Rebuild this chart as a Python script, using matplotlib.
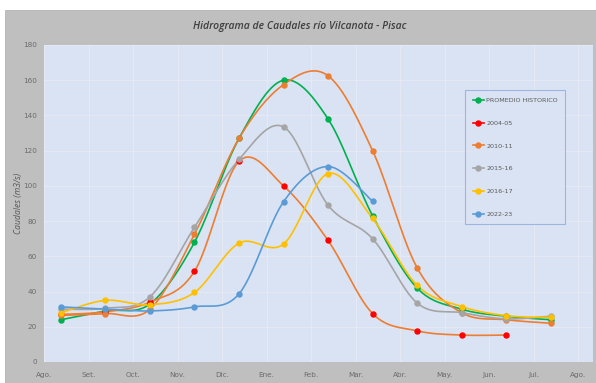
import numpy as np
import matplotlib
matplotlib.use("Agg")
import matplotlib.pyplot as plt
from matplotlib.patches import Rectangle
from matplotlib.lines import Line2D

# Month labels (hydrological year, August to August)
months = ["Ago.", "Set.", "Oct.", "Nov.", "Dic.", "Ene.", "Feb.", "Mar.",
          "Abr.", "May.", "Jun.", "Jul.", "Ago."]

# Monthly mean discharge (m3/s), Vilcanota river at Pisac
promedio = [24, 29, 33, 68, 127, 160, 138, 83, 42, 30, 26, 24]
y2004_05 = [27, 28.5, 34, 51.5, 114, 100, 69, 27.5, 17.7, 15.3, 15.3]
y2010_11 = [26.5, 27.5, 30, 72.5, 127, 157.5, 162.5, 120, 53.5, 28, 24, 22]
y2015_16 = [30, 30.5, 37, 76.5, 115, 133.5, 89, 70, 33.5, 28, 24.5, 26]
y2016_17 = [28, 35, 32.5, 39.5, 67.5, 67, 107, 81.5, 43.5, 31.5, 26.3, 25.3]
y2022_23 = [31.3, 30, 29, 31.3, 38.7, 91, 111, 91.3]

series = [
    ("PROMEDIO HISTORICO", promedio, "#00b050", "#00b050"),
    ("2004-05", y2004_05, "#ed7d31", "#ff0000"),
    ("2010-11", y2010_11, "#ed7d31", "#ed7d31"),
    ("2015-16", y2015_16, "#a5a5a5", "#a5a5a5"),
    ("2016-17", y2016_17, "#ffc000", "#ffc000"),
    ("2022-23", y2022_23, "#5b9bd5", "#5b9bd5"),
]

POINT_OFFSET = 0.38  # mid-month position of each monthly value


def smooth(x, y, n=30):
    """Cardinal (Catmull-Rom style) Bezier smoothing like spreadsheet charts."""
    x = np.asarray(x, float)
    y = np.asarray(y, float)
    pts = np.column_stack([x, y])
    m = len(pts)
    out = [pts[0]]
    t = np.linspace(0, 1, n)[1:, None]
    for i in range(m - 1):
        p0 = pts[i - 1] if i > 0 else pts[i]
        p1 = pts[i]
        p2 = pts[i + 1]
        p3 = pts[i + 2] if i + 2 < m else pts[i + 1]
        c1 = p1 + (p2 - p0) / 6.0
        c2 = p2 - (p3 - p1) / 6.0
        seg = ((1 - t) ** 3) * p1 + 3 * ((1 - t) ** 2) * t * c1 + \
            3 * (1 - t) * t ** 2 * c2 + t ** 3 * p2
        out.extend(seg)
    out = np.array(out)
    return out[:, 0], out[:, 1]


W, H = 596, 383
fig = plt.figure(figsize=(W / 100, H / 100), dpi=100, facecolor="white")
fig.patches.append(Rectangle((5 / W, 0), 1 - 5 / W, 1 - 10 / H,
                             transform=fig.transFigure, facecolor="#bfbfbf",
                             edgecolor="#b3b3b3", linewidth=0.6, zorder=-10))

ax = fig.add_axes([44 / W, 1 - 362 / H, (593 - 44) / W, (362 - 45) / H])
ax.set_zorder(5)
ax.set_facecolor("#dae3f3")
for s in ax.spines.values():
    s.set_visible(False)

handles = []
for name, vals, lc, mc in series:
    xs = np.arange(len(vals)) + POINT_OFFSET
    sx, sy = smooth(xs, vals)
    ax.plot(sx, sy, color=lc, lw=1.2, zorder=3, solid_capstyle="round")
    ax.plot(xs, vals, linestyle="none", marker="o", ms=3.6, color=mc,
            markeredgecolor=mc, zorder=4)
    handles.append(Line2D([], [], color=mc if name == "2004-05" else lc,
                          lw=1.2, marker="o", ms=3.6, markerfacecolor=mc,
                          markeredgecolor=mc))

ax.set_xlim(0.05, 12.33)
ax.set_ylim(0, 180)
ax.set_xticks(np.arange(len(months)))
ax.set_xticklabels(months)
ax.set_yticks(np.arange(0, 181, 20))
ax.tick_params(axis="both", length=0, labelsize=5.2, colors="#6b6b6b")
ax.tick_params(axis="x", pad=7)
ax.tick_params(axis="y", pad=5)
ax.grid(True, color="#e6ebf5", lw=0.6, zorder=0)
ax.set_axisbelow(True)

fig.text(18 / W, (1 - 362 / H + 1 - 45 / H) / 2, "Caudales (m3/s)",
         rotation=90, ha="center", va="center", fontsize=6.2,
         style="italic", color="#595959", fontfamily="Open Sans")
fig.text(300 / W, 1 - 27 / H, "Hidrograma de Caudales río Vilcanota - Pisac",
         ha="center", va="center", fontsize=7.5, style="italic",
         fontweight="semibold", color="#404040", fontfamily="Open Sans")

leg = ax.legend(handles, [s[0] for s in series],
                loc="upper left",
                bbox_to_anchor=((465 - 44) / (593 - 44), 1 - (90 - 45) / (362 - 45)),
                fontsize=4.6, frameon=True, fancybox=False, labelspacing=2.7,
                handlelength=1.8, handletextpad=0.3, borderpad=1.2,
                borderaxespad=0)
leg.get_frame().set_edgecolor("#8faadc")
leg.get_frame().set_facecolor("#dae3f3")
leg.get_frame().set_linewidth(0.8)
for t in leg.get_texts():
    t.set_color("#595959")

fig.savefig("out.png", dpi=100, facecolor="white")
